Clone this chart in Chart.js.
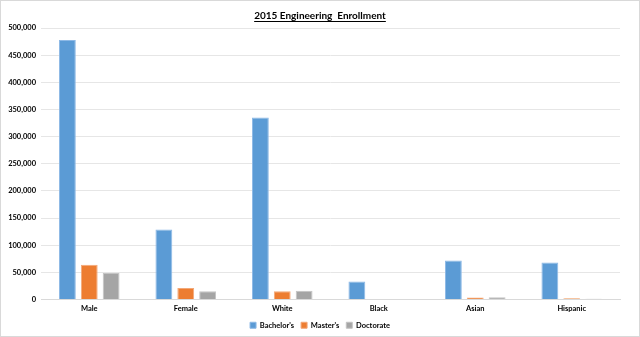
<!DOCTYPE html>
<html><head><meta charset="utf-8">
<script src="https://cdn.jsdelivr.net/npm/chart.js@4"></script>
<style>html,body{margin:0;padding:0;background:#fff}#wrap{width:640px;height:337px;position:relative;box-sizing:border-box;border:1px solid #d9d9d9}</style>
</head><body><div id="wrap"><canvas id="c" width="638" height="335"></canvas></div>
<script>
const categories = ["Male","Female","White","Black","Asian","Hispanic"];
const bachelors = [478000,129000,335000,33000,72000,68000];
const masters = [64000,21000,15000,1000,3500,2500];
const doctorate = [49000,15000,16000,1000,4000,1500];
const seriesNames = ["Bachelor's","Master's","Doctorate"];
const titleText = "2015 Engineering  Enrollment";
const FAM = 'Lato, "Open Sans", sans-serif';
const TSIZE = 10;

const underline = {
  id:'underline',
  afterDraw(chart){
    const t = chart.titleBlock; if(!t) return;
    const ctx = chart.ctx;
    ctx.save();
    ctx.font = 'bold ' + TSIZE + 'px ' + FAM;
    const w = ctx.measureText(titleText).width;
    const cx = (t.left + t.right)/2;
    const y = t.top + t.options.padding.top + TSIZE + 0.5;
    ctx.strokeStyle = '#000'; ctx.lineWidth = 1;
    ctx.beginPath(); ctx.moveTo(cx - w/2, Math.round(y)+0.5); ctx.lineTo(cx + w/2, Math.round(y)+0.5); ctx.stroke();
    ctx.restore();
  }
};
const f = {family:FAM, size:7.5, weight:'bold'};
new Chart(document.getElementById('c'), {
  type:'bar',
  data:{labels:categories, datasets:[
    {label:seriesNames[0], data:bachelors, backgroundColor:'#5b9bd5', borderColor:'#8db9e6', borderWidth:1},
    {label:seriesNames[1], data:masters, backgroundColor:'#ed7d31', borderColor:'#f3a878', borderWidth:1},
    {label:seriesNames[2], data:doctorate, backgroundColor:'#a5a5a5', borderColor:'#c4c4c4', borderWidth:1}
  ]},
  options:{
    responsive:false, animation:false,
    layout:{padding:{left:0,right:0,top:3,bottom:-3}},
    datasets:{bar:{categoryPercentage:0.68,barPercentage:0.77}},
    plugins:{
      title:{display:true,text:titleText,color:'#000',font:{family:FAM,size:TSIZE,weight:'bold'},padding:{top:6,bottom:6}},
      legend:{position:'bottom',labels:{boxWidth:6,boxHeight:6,font:f,color:'#000',padding:7}},
      tooltip:{enabled:false}
    },
    scales:{
      x:{afterFit:s=>{s.height=s.height-4;},grid:{display:false,drawTicks:false},border:{color:'#d9d9d9'},ticks:{font:f,color:'#000',padding:5}},
      y:{min:0,max:500000,afterFit:s=>{s.width=40;},ticks:{stepSize:50000,font:f,color:'#000',padding:5,callback:v=>v.toLocaleString('en-US')},grid:{color:'#e6e6e6',drawTicks:false},border:{display:false}},
      yr:{position:'right',display:true,afterFit:s=>{s.width=19;},ticks:{display:false},grid:{display:false,drawTicks:false},border:{display:false}}
    }
  },
  plugins:[underline]
});
</script></body></html>
